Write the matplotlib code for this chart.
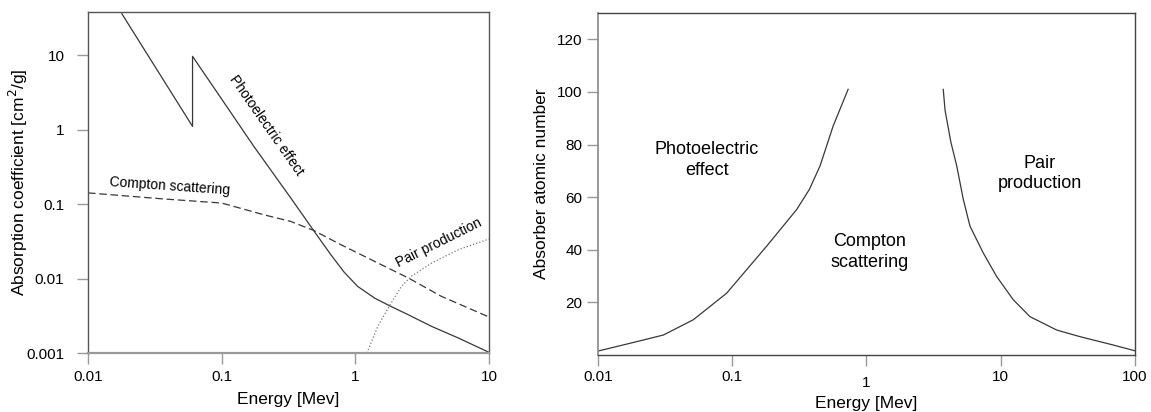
import matplotlib
matplotlib.use('Agg')
import matplotlib.pyplot as plt
from matplotlib.ticker import FixedLocator, NullLocator

plt.rcParams['font.family'] = ['Liberation Sans', 'DejaVu Sans']

# Left panel: absorption coefficient vs energy
photo_E = [0.0179, 0.0605, 0.0605, 0.174, 0.329, 0.486, 0.656, 0.826, 1.04,
           1.39, 1.80, 2.48, 3.71, 5.89, 10]
photo_mu = [35.8, 1.10, 9.6, 0.593, 0.120, 0.0443, 0.0208, 0.0121, 0.00783,
            0.00547, 0.00431, 0.00327, 0.00228, 0.00159, 0.00102]
compton_E = [0.01, 0.0366, 0.1, 0.206, 0.329, 0.486, 0.780, 1.39, 2.48, 4.40, 10]
compton_mu = [0.141, 0.117, 0.103, 0.0718, 0.0583, 0.0443, 0.0284, 0.0170,
              0.0102, 0.00576, 0.00304]
pair_E = [1.22, 1.47, 1.80, 2.21, 2.62, 3.71, 5.89, 10]
pair_mu = [0.001, 0.00228, 0.00431, 0.00783, 0.0107, 0.0161, 0.0244, 0.0339]
left_xticks = [0.01, 0.1, 1, 10]
left_xlabels = ['0.01', '0.1', '1', '10']
left_yticks = [0.001, 0.01, 0.1, 1, 10]
left_ylabels = ['0.001', '0.01', '0.1', '1', '10']

# Right panel: dominant-interaction boundaries
pe_cs_E = [0.01, 0.0173, 0.0307, 0.0513, 0.0909, 0.180, 0.302, 0.376, 0.451,
           0.565, 0.73]
pe_cs_Z = [1.5, 4.45, 7.6, 13.4, 23.5, 41.3, 55.3, 63, 71.9, 87.1, 101]
cs_pp_E = [3.73, 3.85, 4.25, 4.7, 5.26, 5.9, 7.41, 9.31, 12.4, 16.5, 26.1,
           38.8, 68.9, 100]
cs_pp_Z = [101, 93, 81, 71.9, 59.2, 49, 38.8, 29.9, 21, 14.6, 9.5, 7.0, 3.8, 1.6]
right_xticks = [0.01, 0.1, 1, 10, 100]
right_xlabels = ['0.01', '0.1', '1', '10', '100']
right_yticks = [20, 40, 60, 80, 100, 120]

line_c = '#383838'
tick_c = '#999999'

fig = plt.figure(figsize=(11.51, 4.12), dpi=100)
ax1 = fig.add_axes([0.0765, 0.1432, 0.3484, 0.8277])
ax2 = fig.add_axes([0.5195, 0.1383, 0.4666, 0.830])

# ---- left
ax1.plot(photo_E, photo_mu, '-', color=line_c, lw=0.9)
ax1.plot(compton_E, compton_mu, '--', color=line_c, lw=0.9, dashes=(6, 3))
ax1.plot(pair_E, pair_mu, ':', color='#777777', lw=0.9)
ax1.set_xscale('log')
ax1.set_yscale('log')
ax1.set_xlim(0.01, 10)
ax1.set_ylim(0.001, 37.8)
ax1.xaxis.set_major_locator(FixedLocator(left_xticks))
ax1.set_xticklabels(left_xlabels)
ax1.xaxis.set_minor_locator(NullLocator())
ax1.yaxis.set_major_locator(FixedLocator(left_yticks))
ax1.set_yticklabels(left_ylabels)
ax1.yaxis.set_minor_locator(NullLocator())
ax1.set_xlabel('Energy [Mev]', fontsize=12.5, labelpad=6)
ax1.set_ylabel('Absorption coefficient [cm$^2$/g]', fontsize=12.5)
ax1.yaxis.set_label_coords(-0.145, 0.5)
ax1.tick_params(axis='both', length=8, width=1, color=tick_c, labelsize=11, pad=4)
ax1.tick_params(axis='y', pad=9)
for s in ['top', 'right', 'left']:
    ax1.spines[s].set_color('#555555')
    ax1.spines[s].set_linewidth(1.0)
ax1.spines['bottom'].set_color('#999999')
ax1.spines['bottom'].set_linewidth(1.6)

ax1.text(0.0405, 0.172, 'Compton scattering', rotation=-4, fontsize=10,
         ha='center', va='center', rotation_mode='anchor')
ax1.text(0.215, 1.12, 'Photoelectric effect', rotation=-55, fontsize=10,
         ha='center', va='center', rotation_mode='anchor')
ax1.text(4.2, 0.030, 'Pair production', rotation=26.5, fontsize=10,
         ha='center', va='center', rotation_mode='anchor')

# ---- right
ax2.plot(pe_cs_E, pe_cs_Z, '-', color=line_c, lw=0.9)
ax2.plot(cs_pp_E, cs_pp_Z, '-', color=line_c, lw=0.9)
ax2.set_xscale('log')
ax2.set_xlim(0.01, 100)
ax2.set_ylim(0, 130)
ax2.xaxis.set_major_locator(FixedLocator(right_xticks))
ax2.set_xticklabels(right_xlabels)
ax2.xaxis.set_minor_locator(NullLocator())
ax2.set_yticks(right_yticks)
ax2.set_xlabel('Energy [Mev]', fontsize=12.5, labelpad=4)
ax2.set_ylabel('Absorber atomic number', fontsize=12.5, labelpad=6)
ax2.tick_params(axis='both', length=8, width=1, color=tick_c, labelsize=11, pad=3)
for s in ['top', 'right', 'bottom']:
    ax2.spines[s].set_color('#444444')
    ax2.spines[s].set_linewidth(1.0)
ax2.spines['left'].set_color('#888888')
ax2.spines['left'].set_linewidth(1.2)
# the "1" label sits a little lower in the original
ax2.xaxis.get_major_ticks()[2].label1.set_y(-0.018)

ax2.text(0.065, 74, 'Photoelectric\neffect', fontsize=13, ha='center', va='center',
         linespacing=1.3)
ax2.text(1.05, 39, 'Compton\nscattering', fontsize=13, ha='center', va='center',
         linespacing=1.3)
ax2.text(19.5, 69, 'Pair\nproduction', fontsize=13, ha='center', va='center',
         linespacing=1.3)

fig.savefig('out.png', dpi=100)
